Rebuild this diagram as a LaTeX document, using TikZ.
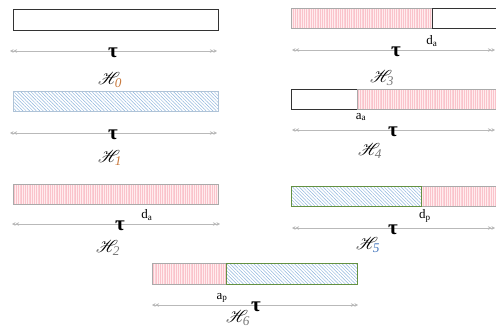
\documentclass[tikz,border=0pt]{standalone}
\usepackage{fontspec}
\setmainfont{Liberation Serif}
\usepackage{mathrsfs}
\usetikzlibrary{patterns.meta,arrows.meta}
\definecolor{pinkfill}{RGB}{255,236,238}
\definecolor{pinkline}{RGB}{250,195,203}
\definecolor{bluehatch}{RGB}{140,180,220}
\definecolor{blueedge}{RGB}{175,195,215}
\definecolor{greenedge}{RGB}{100,145,65}
\definecolor{graybox}{RGB}{170,170,170}
\definecolor{arrowgray}{RGB}{185,185,185}
\definecolor{subgray}{RGB}{120,120,120}
\definecolor{suborange}{RGB}{200,120,60}
\definecolor{subblue}{RGB}{70,120,190}
\tikzset{
  seg/.style={rectangle, inner sep=0pt, outer sep=0pt, anchor=north west, minimum height=20pt},
  plainbox/.style={seg, draw=black!80, line width=1pt, fill=white},
  pinkbox/.style={seg, draw=graybox, line width=1pt, preaction={fill=pinkfill},
     pattern={Lines[angle=90,distance=1.8pt,line width=0.35pt]}, pattern color=pinkline},
  bluebox/.style={seg, draw=blueedge, line width=1pt, preaction={fill=white},
     pattern={Lines[angle=-45,distance=2.4pt,line width=0.45pt]}, pattern color=bluehatch},
  greenbox/.style={bluebox, draw=greenedge, line width=1pt},
  spanline/.style={draw=arrowgray, line width=0.9pt,
     {Stealth[length=3.5pt,width=3.5pt]Stealth[length=3.5pt,width=3.5pt]}-{Stealth[length=3.5pt,width=3.5pt]Stealth[length=3.5pt,width=3.5pt]}},
  taulab/.style={font=\fontsize{21}{22}\selectfont\bfseries, inner sep=0.5pt},
  hlab/.style={font=\fontsize{19}{21}\selectfont},
  marklab/.style={font=\fontsize{13}{14}\selectfont, inner sep=0pt}
}
\begin{document}
\begin{tikzpicture}[x=1pt,y=-1pt]
\useasboundingbox (0,0) rectangle (496,329);
% H0
\node[plainbox, minimum width=205pt, minimum height=21pt] (b0) at (13,10) {};
\coordinate (l0) at (10,51); \coordinate (r0) at (217,51);
\draw[spanline] (l0) -- (r0);
\node[taulab] (t0) at (113,53) {τ};
\node[hlab] (h0) at (110,80) {$\mathscr{H}_{\color{suborange}\mathit{0}}$};
% H1
\node[bluebox, minimum width=205pt] (b1) at (13,92) {};
\coordinate (l1) at (10,133); \coordinate (r1) at (217,133);
\draw[spanline] (l1) -- (r1);
\node[taulab] (t1) at (113,135) {τ};
\node[hlab] (h1) at (110,158) {$\mathscr{H}_{\color{suborange}\mathit{1}}$};
% H2
\node[pinkbox, minimum width=205pt] (b2) at (13,184) {};
\coordinate (l2) at (12,224); \coordinate (r2) at (220,224);
\draw[spanline] (l2) -- (r2);
\node[taulab] (t2) at (120,226) {τ};
\node[marklab] (d2) at (147,215) {d\textsubscript{a}};
\node[hlab] (h2) at (108,248) {$\mathscr{H}_{\color{subgray}\mathit{2}}$};
% H3
\node[pinkbox, minimum width=141pt] (b3a) at (291,9) {};
\node[plainbox, minimum width=70pt] (b3b) at (432,9) {};
\coordinate (l3) at (292,50); \coordinate (r3) at (495,50);
\draw[spanline] (l3) -- (r3);
\node[taulab] (t3) at (396,52) {τ};
\node[marklab] (d3) at (432,41) {d\textsubscript{a}};
\node[hlab] (h3) at (382,78) {$\mathscr{H}_{\color{subgray}\mathit{3}}$};
% H4
\node[plainbox, minimum width=66pt] (b4a) at (291,90) {};
\node[pinkbox, minimum width=145pt] (b4b) at (357,90) {};
\coordinate (l4) at (292,130); \coordinate (r4) at (495,130);
\draw[spanline] (l4) -- (r4);
\node[taulab] (t4) at (393,132) {τ};
\node[marklab] (a4) at (361,117) {a\textsubscript{a}};
\node[hlab] (h4) at (370,151) {$\mathscr{H}_{\color{subgray}\mathit{4}}$};
% H5
\node[pinkbox, minimum width=81pt] (b5b) at (421,186) {};
\node[greenbox, minimum width=130pt] (b5a) at (291,186) {};
\coordinate (l5) at (292,228); \coordinate (r5) at (495,228);
\draw[spanline] (l5) -- (r5);
\node[taulab] (t5) at (393,230) {τ};
\node[marklab] (d5) at (425,216) {d\textsubscript{p}};
\node[hlab] (h5) at (368,245) {$\mathscr{H}_{\color{subblue}\mathit{5}}$};
% H6
\node[pinkbox, minimum width=74pt, minimum height=21pt] (b6a) at (152,263) {};
\node[greenbox, minimum width=131pt, minimum height=21pt] (b6b) at (226,263) {};
\coordinate (l6) at (152,305); \coordinate (r6) at (358,305);
\draw[spanline] (l6) -- (r6);
\node[taulab] (t6) at (256,307) {τ};
\node[marklab] (a6) at (222,298) {a\textsubscript{p}};
\node[hlab] (h6) at (238,318) {$\mathscr{H}_{\color{subgray}\mathit{6}}$};
\end{tikzpicture}
\end{document}
